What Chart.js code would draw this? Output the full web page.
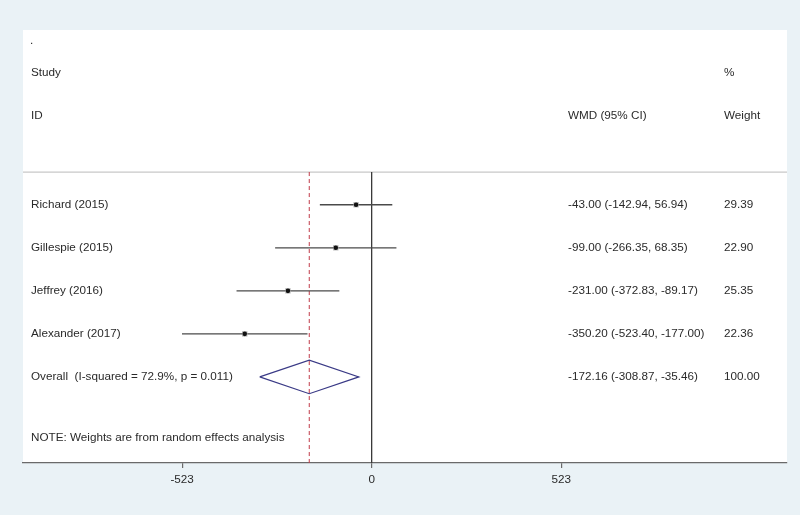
<!DOCTYPE html>
<html>
<head>
<meta charset="utf-8">
<script src="https://cdn.jsdelivr.net/npm/chart.js@4"></script>
<style>
  html, body { margin: 0; padding: 0; background: #eaf2f6; }
  #wrap { width: 800px; height: 515px; }
</style>
</head>
<body>
<div id="wrap"><canvas id="forest"></canvas></div>
<script>
const STUDIES = ["Richard (2015)", "Gillespie (2015)", "Jeffrey (2016)", "Alexander (2017)"];
const WMD = [-43.00, -99.00, -231.00, -350.20];
const LOWER = [-142.94, -266.35, -372.83, -523.40];
const UPPER = [56.94, 68.35, -89.17, -177.00];
const WEIGHTS = [29.39, 22.90, 25.35, 22.36];

const OVERALL_LABEL = "Overall  (I-squared = 72.9%, p = 0.011)";
const OVERALL = { est: -172.16, lo: -308.87, hi: -35.46, weight: 100.00 };
const NOTE = "NOTE: Weights are from random effects analysis";
const X_TICKS = [-523, 0, 523];

const X_MIN = -962;
const X_MAX = 1146;
const ROW_TOP = -3.06;
const ROW_BOTTOM = 7;
const HEADER_LINE = 0.24;

const COLORS = {
  bg: "#eaf2f6",
  panel: "#ffffff",
  text: "#2a2a2a",
  ci: "#4a4a4a",
  zero: "#3a3a3a",
  overall: "#c03a48",
  diamond: "#3a3a86",
  box: "#b8b8b8",
  divider: "#c8c8c8",
};
const FONT = "11.7px 'Liberation Sans', Arial, sans-serif";

const fmt = (v) => v.toFixed(2);
const rows = STUDIES.map((_, i) => i + 1);
const overallRow = STUDIES.length + 1;

// one small line dataset per confidence interval
const ciSets = STUDIES.map((s, i) => ({
  type: "line",
  order: 3,
  data: [{ x: LOWER[i], y: rows[i] }, { x: UPPER[i], y: rows[i] }],
  borderColor: COLORS.ci,
  borderWidth: 1.3,
  pointRadius: 0,
}));

const diamondH = 0.39;
const datasets = [
  {
    type: "line",
    order: 5,
    data: [{ x: X_MIN, y: HEADER_LINE }, { x: X_MAX, y: HEADER_LINE }],
    borderColor: COLORS.divider,
    borderWidth: 1.2,
    pointRadius: 0,
  },
  {
    type: "line",
    order: 4,
    data: [{ x: 0, y: HEADER_LINE }, { x: 0, y: ROW_BOTTOM }],
    borderColor: COLORS.zero,
    borderWidth: 1.3,
    pointRadius: 0,
  },
  {
    type: "line",
    order: 4,
    data: [{ x: OVERALL.est, y: HEADER_LINE }, { x: OVERALL.est, y: ROW_BOTTOM }],
    borderColor: COLORS.overall,
    borderWidth: 1,
    borderDash: [4, 3],
    pointRadius: 0,
  },
  ...ciSets,
  {
    type: "scatter",
    order: 2,
    data: WMD.map((v, i) => ({ x: v, y: rows[i] })),
    pointStyle: "rect",
    pointRadius: 3.8,
    backgroundColor: COLORS.box,
    borderWidth: 0,
  },
  {
    type: "scatter",
    order: 1,
    data: WMD.map((v, i) => ({ x: v, y: rows[i] })),
    pointStyle: "circle",
    pointRadius: 2.3,
    backgroundColor: "#111111",
    borderWidth: 0,
  },
  {
    type: "line",
    order: 1,
    data: [
      { x: OVERALL.lo, y: overallRow },
      { x: OVERALL.est, y: overallRow - diamondH },
      { x: OVERALL.hi, y: overallRow },
      { x: OVERALL.est, y: overallRow + diamondH },
      { x: OVERALL.lo, y: overallRow },
    ],
    borderColor: COLORS.diamond,
    borderWidth: 1.2,
    pointRadius: 0,
    tension: 0,
  },
];

const backdrop = {
  id: "backdrop",
  beforeDraw(chart) {
    const { ctx, chartArea: a } = chart;
    ctx.save();
    ctx.fillStyle = COLORS.bg;
    ctx.fillRect(0, 0, chart.width, chart.height);
    ctx.fillStyle = COLORS.panel;
    ctx.fillRect(a.left, a.top, a.right - a.left, a.bottom - a.top);
    ctx.restore();
  },
};

const tableText = {
  id: "tableText",
  afterDraw(chart) {
    const { ctx, chartArea: a } = chart;
    const y = chart.scales.y;
    const labelX = a.left + 8;
    const wmdX = a.left + 545;
    const wX = a.left + 701;
    ctx.save();
    ctx.font = FONT;
    ctx.fillStyle = COLORS.text;
    ctx.textBaseline = "middle";
    ctx.textAlign = "left";

    ctx.fillText(".", labelX - 1, y.getPixelForValue(-2.8));
    ctx.fillText("Study", labelX, y.getPixelForValue(-2.07));
    ctx.fillText("ID", labelX, y.getPixelForValue(-1.07));
    ctx.fillText("%", wX, y.getPixelForValue(-2.07));
    ctx.fillText("WMD (95% CI)", wmdX, y.getPixelForValue(-1.07));
    ctx.fillText("Weight", wX, y.getPixelForValue(-1.07));

    STUDIES.forEach((s, i) => {
      const py = y.getPixelForValue(rows[i]);
      ctx.fillText(s, labelX, py);
      ctx.fillText(`${fmt(WMD[i])} (${fmt(LOWER[i])}, ${fmt(UPPER[i])})`, wmdX, py);
      ctx.fillText(fmt(WEIGHTS[i]), wX, py);
    });

    const oy = y.getPixelForValue(overallRow);
    ctx.fillText(OVERALL_LABEL, labelX, oy);
    ctx.fillText(`${fmt(OVERALL.est)} (${fmt(OVERALL.lo)}, ${fmt(OVERALL.hi)})`, wmdX, oy);
    ctx.fillText(fmt(OVERALL.weight), wX, oy);

    ctx.fillText(NOTE, labelX, y.getPixelForValue(6.42));
    ctx.restore();
  },
};

new Chart(document.getElementById("forest"), {
  data: { datasets },
  plugins: [backdrop, tableText],
  options: {
    responsive: true,
    maintainAspectRatio: false,
    animation: false,
    layout: { padding: { left: 23, right: 13, top: 30, bottom: 0 } },
    plugins: { legend: { display: false }, tooltip: { enabled: false } },
    scales: {
      x: {
        type: "linear",
        min: X_MIN,
        max: X_MAX,
        afterBuildTicks: (scale) => { scale.ticks = X_TICKS.map((v) => ({ value: v })); },
        afterFit: (scale) => { scale.height = 52; },
        border: { color: "#6a6a6a", width: 1.2 },
        grid: { drawOnChartArea: false, tickLength: 5, color: "#6a6a6a", lineWidth: 1.2 },
        ticks: {
          padding: 5,
          color: COLORS.text,
          font: { family: "'Liberation Sans', Arial, sans-serif", size: 11.7 },
          callback: (v) => String(v),
        },
      },
      y: {
        type: "linear",
        min: ROW_TOP,
        max: ROW_BOTTOM,
        reverse: true,
        display: false,
      },
    },
  },
});
</script>
</body>
</html>
